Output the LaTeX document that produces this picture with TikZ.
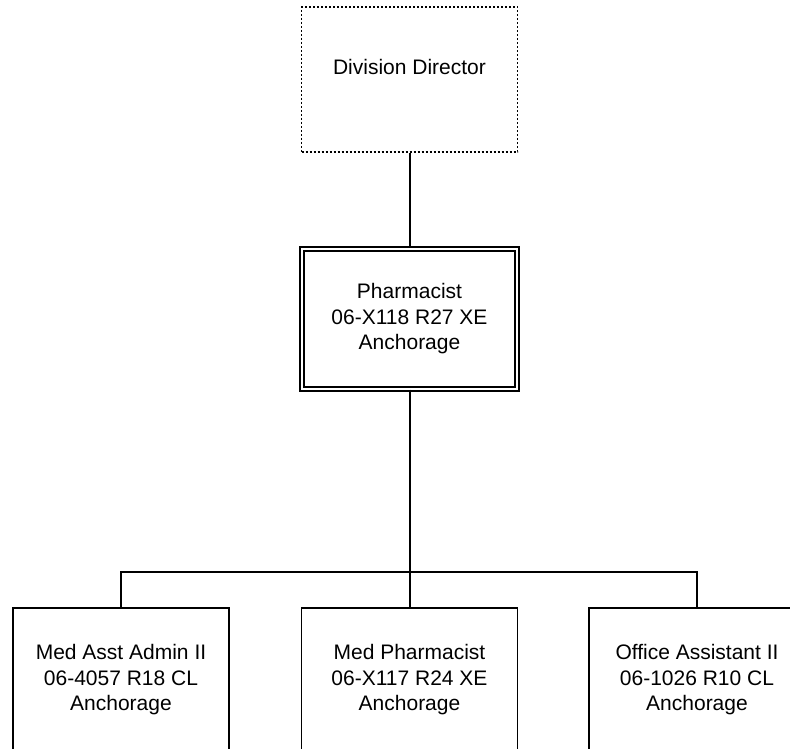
\documentclass[tikz,border=0pt]{standalone}
\usepackage{fontspec}
\setmainfont{Liberation Sans}
\usetikzlibrary{positioning}

\begin{document}
\begin{tikzpicture}[x=1pt,y=-1pt,
  post/.style={rectangle,draw,line width=1.9pt,minimum width=216pt,minimum height=144pt,
    align=center,inner sep=0pt,font=\fontsize{21}{25.5}\selectfont},
  vacant/.style={post,line width=1.7pt,dash pattern=on 2pt off 2pt,minimum height=145pt,text depth=26pt},
  head/.style={post,line width=1.4pt,double,double distance=2.6pt,minimum width=215pt,minimum height=140pt},
  link/.style={line width=2pt}]
  \useasboundingbox (0,0) rectangle (790,749);

  \node[vacant] (dir) at (409.5,79.5) {Division Director};
  \node[head] (pharm) at (409.5,319) {Pharmacist\\06-X118 R27 XE\\Anchorage};
  \node[post] (asst) at (121,680) {Med Asst Admin II\\06-4057 R18 CL\\Anchorage};
  \node[post] (medph) at (409.5,680) {Med Pharmacist\\06-X117 R24 XE\\Anchorage};
  \node[post] (office) at (697,680) {Office Assistant II\\06-1026 R10 CL\\Anchorage};
  \coordinate (bus) at (409.5,572);

  \draw[link] (dir) -- (pharm);
  \draw[link] (pharm) -- (bus);
  \draw[link] (bus) -| (asst);
  \draw[link] (bus) -- (medph);
  \draw[link] (bus) -| (office);
\end{tikzpicture}
\end{document}
